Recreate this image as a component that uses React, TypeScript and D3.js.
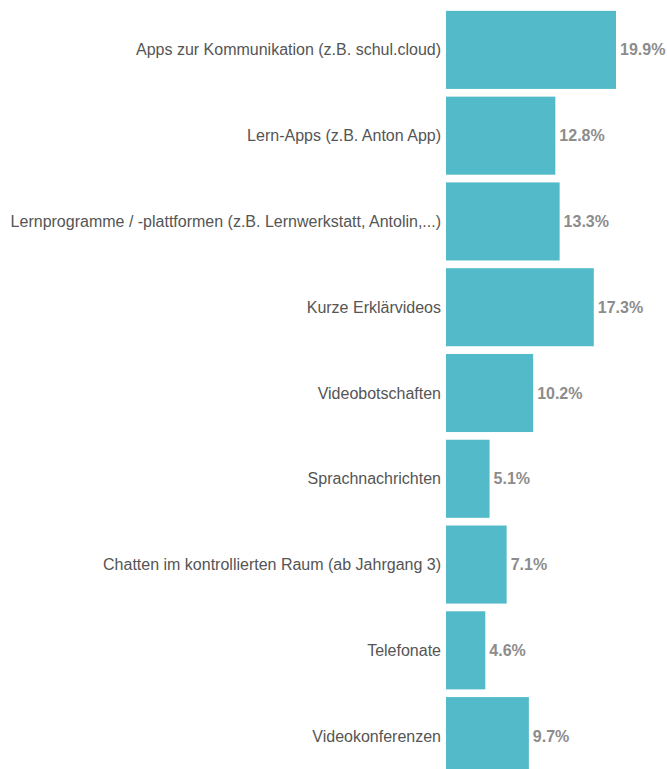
import React from "react";
import * as d3 from "d3";

const categories = [
  "Apps zur Kommunikation (z.B. schul.cloud)",
  "Lern-Apps (z.B. Anton App)",
  "Lernprogramme / -plattformen (z.B. Lernwerkstatt, Antolin,...)",
  "Kurze Erklärvideos",
  "Videobotschaften",
  "Sprachnachrichten",
  "Chatten im kontrollierten Raum (ab Jahrgang 3)",
  "Telefonate",
  "Videokonferenzen",
];
const values = [19.9, 12.8, 13.3, 17.3, 10.2, 5.1, 7.1, 4.6, 9.7];

const W = 667;
const H = 769;

export default function App() {
  const x = d3.scaleLinear().domain([0, 19.9]).range([446, 616]);
  const y = d3
    .scaleBand<string>()
    .domain(categories)
    .range([7, 779])
    .paddingInner(0.09)
    .paddingOuter(0.045);

  return (
    <svg
      width={W}
      height={H}
      style={{ position: "absolute", left: 0, top: 0, background: "#fff" }}
      fontFamily="'Liberation Sans', Arial, sans-serif"
    >
      {categories.map((c, i) => {
        const y0 = y(c)!;
        const bh = y.bandwidth();
        const cy = y0 + bh / 2;
        return (
          <g key={c}>
            <rect x={x(0)} y={y0} width={x(values[i]) - x(0)} height={bh} fill="#52bac8" />
            <text x={x(0) - 5} y={cy} dy="0.35em" textAnchor="end" fontSize={16} fill="#555">
              {c}
            </text>
            <text x={x(values[i]) + 4} y={cy} dy="0.35em" fontSize={16} fontWeight="bold" fill="#8c8c8c">
              {values[i].toFixed(1)}%
            </text>
          </g>
        );
      })}
    </svg>
  );
}
